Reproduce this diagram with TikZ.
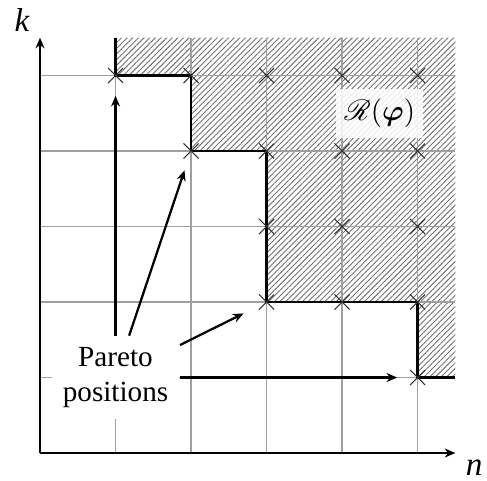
\documentclass[tikz,border=0pt]{standalone}
\usepackage{amsmath}
\usepackage{fontspec}
\setmainfont{Liberation Serif}
\usepackage{mathrsfs}
\usetikzlibrary{arrows.meta,patterns.meta}
\begin{document}
\begin{tikzpicture}[x=1cm,y=1cm,
  gridline/.style={gray!75,line width=0.45pt},
  axisline/.style={line width=0.85pt,-{Stealth[length=4pt,width=3.4pt]}},
  stairline/.style={line width=0.95pt},
  crossmark/.style={black!80,line width=0.4pt},
  pointer/.style={line width=0.85pt,-{Stealth[length=4pt,width=3.4pt]},shorten >=0.27cm},
  lbl/.style={font=\fontsize{11}{13.2}\selectfont}]
\useasboundingbox (-0.53,-0.36) rectangle (5.92,6.0);
% hatched region
\fill[pattern={Lines[angle=45,distance=1.5pt,line width=0.35pt]},pattern color=gray!90!black]
  (1,5.5) -- (1,5) -- (2,5) -- (2,4) -- (3,4) -- (3,2) -- (5,2) -- (5,1) -- (5.5,1) -- (5.5,5.5) -- cycle;
% grid
\foreach \i in {1,...,5} {
  \draw[gridline] (\i,0) -- (\i,5.5);
  \draw[gridline] (0,\i) -- (5.5,\i);
}
% axes
\coordinate (o) at (0,0);
\coordinate (xend) at (5.5,0);
\coordinate (yend) at (0,5.5);
\draw[axisline] (o) -- (xend);
\draw[axisline] (o) -- (yend);
\node[font=\fontsize{12.5}{14}\selectfont\itshape] (nlab) at (5.75,-0.2) {n};
\node[font=\fontsize{12.5}{14}\selectfont\itshape] (klab) at (-0.24,5.74) {k};
% staircase
\coordinate (p1) at (1,5);
\coordinate (p2) at (2,4);
\coordinate (p3) at (3,2);
\coordinate (p4) at (5,1);
\draw[stairline] (1,5.5) -- (p1) -- (2,5) -- (p2) -- (3,4) -- (p3) -- (5,2) -- (p4) -- (5.5,1);
% crosses
\foreach \p in {(1,5),(2,5),(3,5),(4,5),(5,5),(2,4),(3,4),(4,4),(5,4),(3,3),(4,3),(5,3),(3,2),(4,2),(5,2),(5,1)} {
  \draw[crossmark] \p ++(-0.1,-0.1) -- ++(0.2,0.2) \p ++(-0.1,0.1) -- ++(0.2,-0.2);
}
% region label
\node[lbl,fill=white,fill opacity=0.85,text opacity=1,inner sep=3pt,minimum width=1.15cm,minimum height=0.65cm] (rlab) at (4.5,4.5) {$\mathscr{R}(\boldsymbol{\varphi})$};
% Pareto label
\node[lbl,fill=white,align=center,inner sep=4.2pt] (plab) at (1,1) {Pareto\\positions};
\draw[pointer] (plab.north) -- (p1);
\draw[pointer] ([xshift=0.18cm]plab.north) -- (p2);
\draw[pointer,shorten >=0.34cm] ([yshift=0.43cm]plab.east) -- (p3);
\draw[pointer] (plab.east) -- (p4);
\end{tikzpicture}
\end{document}
